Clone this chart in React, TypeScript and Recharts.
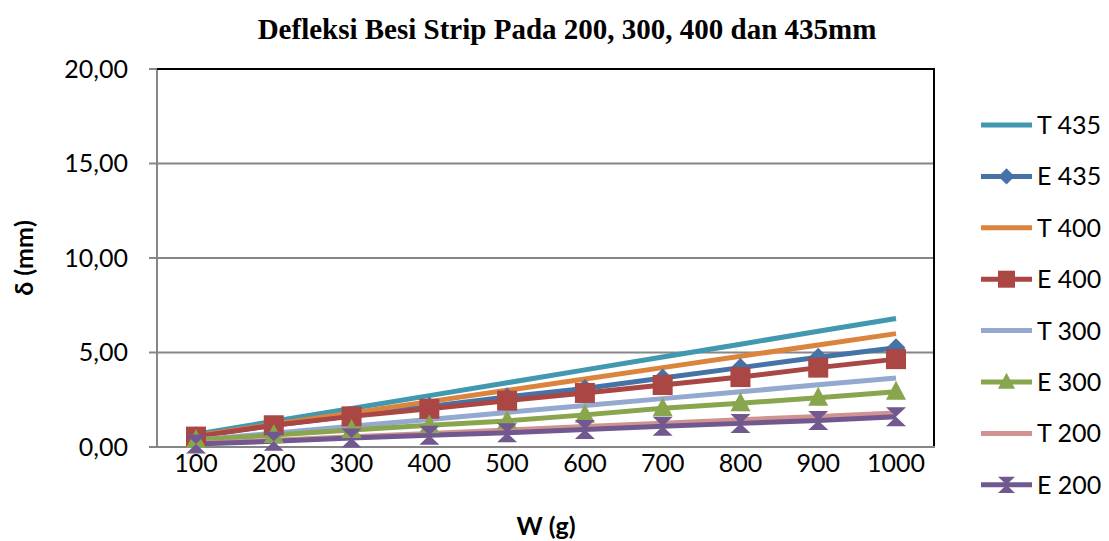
import React from 'react';
import {
  LineChart,
  Line,
  XAxis,
  YAxis,
  CartesianGrid,
} from 'recharts';

document.body.style.margin = '0';

// beban (g)
const weights = ['100', '200', '300', '400', '500', '600', '700', '800', '900', '1000'];

// defleksi (mm), teori (T) dan eksperimen (E)
const t435 = [0.68, 1.36, 2.04, 2.72, 3.4, 4.08, 4.76, 5.44, 6.12, 6.8];
const e435 = [0.6, 1.15, 1.65, 2.15, 2.65, 3.1, 3.65, 4.2, 4.75, 5.25];
const t400 = [0.6, 1.2, 1.8, 2.4, 3.0, 3.6, 4.2, 4.8, 5.4, 6.0];
const e400 = [0.55, 1.15, 1.62, 2.02, 2.45, 2.86, 3.28, 3.7, 4.2, 4.65];
const t300 = [0.37, 0.73, 1.1, 1.46, 1.83, 2.19, 2.56, 2.92, 3.29, 3.65];
const e300 = [0.37, 0.63, 0.9, 1.15, 1.38, 1.7, 2.05, 2.32, 2.6, 2.92];
const t200 = [0.18, 0.36, 0.54, 0.72, 0.9, 1.08, 1.26, 1.44, 1.62, 1.8];
const e200 = [0.16, 0.3, 0.47, 0.62, 0.75, 0.92, 1.1, 1.25, 1.4, 1.6];

const yTicks = [0, 5, 10, 15, 20];

const data = weights.map((w, i) => ({
  w,
  t435: t435[i],
  e435: e435[i],
  t400: t400[i],
  e400: e400[i],
  t300: t300[i],
  e300: e300[i],
  t200: t200[i],
  e200: e200[i],
}));

type Shape = 'none' | 'diamond' | 'square' | 'triangle' | 'hourglass';

const series: { key: string; name: string; color: string; shape: Shape }[] = [
  { key: 't435', name: 'T 435', color: '#4198AF', shape: 'none' },
  { key: 'e435', name: 'E 435', color: '#4572A7', shape: 'diamond' },
  { key: 't400', name: 'T 400', color: '#DB843D', shape: 'none' },
  { key: 'e400', name: 'E 400', color: '#AA4643', shape: 'square' },
  { key: 't300', name: 'T 300', color: '#93A9CF', shape: 'none' },
  { key: 'e300', name: 'E 300', color: '#89A54E', shape: 'triangle' },
  { key: 't200', name: 'T 200', color: '#D19392', shape: 'none' },
  { key: 'e200', name: 'E 200', color: '#71588F', shape: 'hourglass' },
];

const FONT = 'Lato, "Open Sans", sans-serif';
const FS = 25;

// plot area (px) - matches chart margins below
const PLOT = { left: 157, top: 69, right: 935, bottom: 447 };

const Marker = ({ cx, cy, shape, color, s = 1 }: any) => {
  if (shape === 'none' || cx == null || cy == null) return null;
  if (shape === 'diamond') {
    const r = 9.5 * s;
    return <path d={`M${cx},${cy - r}L${cx + r},${cy}L${cx},${cy + r}L${cx - r},${cy}Z`} fill={color} />;
  }
  if (shape === 'square') {
    const r = 10 * s;
    return <rect x={cx - r} y={cy - r} width={2 * r} height={2 * r} fill={color} />;
  }
  if (shape === 'triangle') {
    const w = 10 * s;
    return <path d={`M${cx},${cy - 11 * s}L${cx + w},${cy + 8 * s}L${cx - w},${cy + 8 * s}Z`} fill={color} />;
  }
  const w = 10 * s;
  const h = 9.5 * s;
  return (
    <path
      d={`M${cx - w},${cy - h}L${cx + w},${cy - h}L${cx},${cy}Z M${cx - w},${cy + h}L${cx + w},${cy + h}L${cx},${cy}Z`}
      fill={color}
    />
  );
};

const LegendList = () => (
  <svg width={134} height={410} style={{ position: 'absolute', left: 975, top: 105 }}>
    {series.map((s, i) => {
      const y = 20 + i * 51.4;
      return (
        <g key={s.key}>
          <line x1={6} x2={57} y1={y} y2={y} stroke={s.color} strokeWidth={5} />
          <Marker cx={31.5} cy={y} shape={s.shape} color={s.color} s={0.85} />
          <text x={62} y={y} dy="0.36em" fontSize={FS} fontFamily={FONT} fill="#000">
            {s.name}
          </text>
        </g>
      );
    })}
  </svg>
);

const fmt = (v: number) => v.toFixed(2).replace('.', ',');

export default function App() {
  return (
    <div style={{ position: 'relative', width: 1109, height: 541, background: '#fff' }}>
      <div
        style={{
          position: 'absolute',
          top: 13,
          left: 0,
          width: 1134,
          textAlign: 'center',
          fontFamily: '"Liberation Serif", "Times New Roman", serif',
          fontWeight: 'bold',
          fontSize: 29,
          color: '#000',
        }}
      >
        Defleksi Besi Strip Pada 200, 300, 400 dan 435mm
      </div>
      <LineChart
        width={1109}
        height={541}
        data={data}
        margin={{ top: PLOT.top, right: 1109 - PLOT.right, left: 0, bottom: 0 }}
      >
        <CartesianGrid vertical={false} stroke="#868686" strokeWidth={2} />
        <XAxis
          dataKey="w"
          height={541 - PLOT.bottom}
          padding={{ left: 39, right: 39 }}
          axisLine={{ stroke: '#868686', strokeWidth: 2 }}
          tickLine={false}
          tickSize={6}
          tickMargin={1}
          tick={{ fontSize: FS, fontFamily: FONT, fill: '#000' }}
          interval={0}
          label={{
            value: 'W (g)',
            position: 'insideBottom',
            offset: 6,
            style: { fontSize: FS, fontWeight: 'bold', fontFamily: FONT, fill: '#000' },
          }}
        />
        <YAxis
          width={PLOT.left}
          domain={[0, 20]}
          ticks={yTicks}
          interval={0}
          tickFormatter={fmt}
          axisLine={{ stroke: '#868686', strokeWidth: 2 }}
          tickLine={{ stroke: '#868686', strokeWidth: 2 }}
          tickSize={8}
          tickMargin={21}
          tick={{ fontSize: FS, fontFamily: FONT, fill: '#000' }}
          label={{
            value: 'δ (mm)',
            angle: -90,
            position: 'insideLeft',
            offset: 24,
            style: { textAnchor: 'middle', fontSize: FS, fontWeight: 'bold', fontFamily: FONT, fill: '#000' },
          }}
        />
        {series.map((s) => (
          <Line
            key={s.key}
            type="linear"
            dataKey={s.key}
            name={s.name}
            stroke={s.color}
            strokeWidth={5}
            isAnimationActive={false}
            activeDot={false}
            dot={(p: any) => (
              <Marker key={`${s.key}-${p.index}`} cx={p.cx} cy={p.cy} shape={s.shape} color={s.color} />
            )}
          />
        ))}
      </LineChart>
      {/* plot area border (top / right) */}
      <div
        style={{
          position: 'absolute',
          left: PLOT.left,
          top: PLOT.top - 1,
          width: PLOT.right - PLOT.left,
          height: PLOT.bottom - PLOT.top,
          borderTop: '2px solid #000',
          borderRight: '2px solid #000',
          boxSizing: 'border-box',
          pointerEvents: 'none',
        }}
      />
      <LegendList />
    </div>
  );
}
